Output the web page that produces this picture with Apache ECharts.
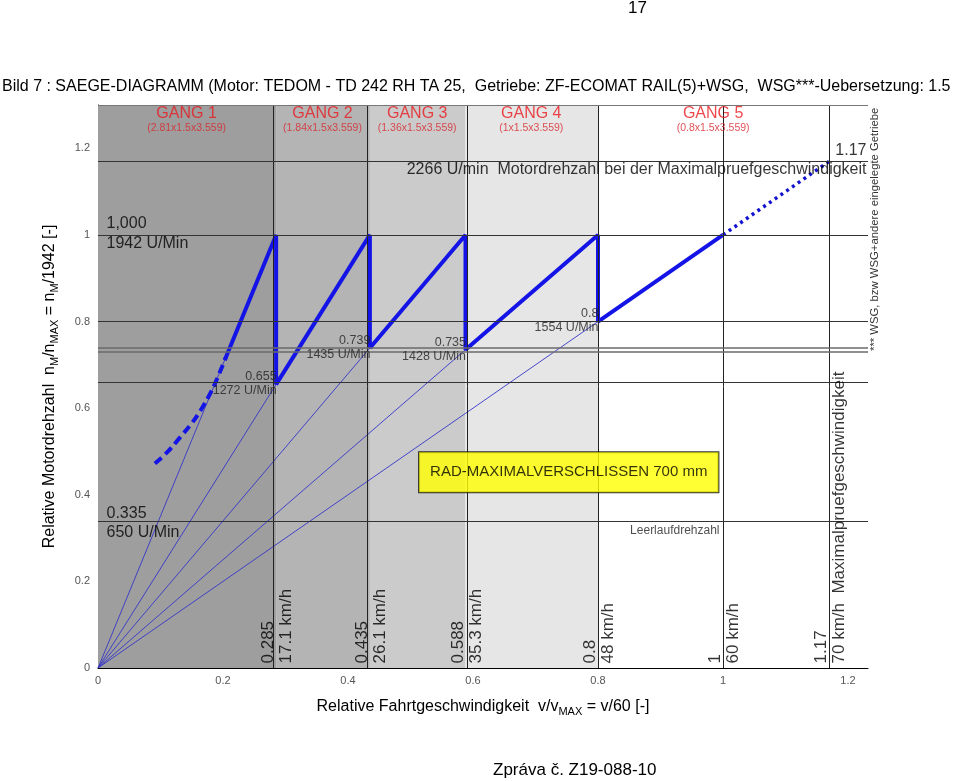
<!DOCTYPE html>
<html><head><meta charset="utf-8">
<script src="https://cdn.jsdelivr.net/npm/echarts@6/dist/echarts.min.js"></script>
<style>html,body{margin:0;padding:0;background:#fff}#c{width:960px;height:781px}</style>
</head><body><div id="c"></div>
<script>
// ---------- data ----------
const X_MIN = 0, X_MAX = 1.232, Y_MIN = 0, Y_MAX = 1.3;
const gangBounds = [0, 0.285, 0.435, 0.588, 0.8, 1.17];
const gangNames = ['GANG 1', 'GANG 2', 'GANG 3', 'GANG 4', 'GANG 5'];
const gangRatios = ['(2.81x1.5x3.559)', '(1.84x1.5x3.559)', '(1.36x1.5x3.559)', '(1x1.5x3.559)', '(0.8x1.5x3.559)'];
const gangColors = ['#9e9e9e', '#b4b4b4', '#cbcbcb', '#e6e6e6', '#ffffff'];
const vLines = [0.285, 0.435, 0.588, 0.8, 1, 1.17];
const vLineValues = ['0.285', '0.435', '0.588', '0.8', '1', '1.17'];
const vLineSpeeds = ['17.1 km/h', '26.1 km/h', '35.3 km/h', '48 km/h', '60 km/h', '70 km/h  Maximalpruefgeschwindigkeit'];
const hLines = [0.335, 0.655, 0.8, 1, 1.17];
const hLinesThick = [0.735, 0.739];
const sawX = [0.203, 0.285, 0.285, 0.435, 0.435, 0.588, 0.588, 0.8, 0.8, 1.0];
const sawY = [0.712, 1, 0.655, 1, 0.739, 1, 0.735, 1, 0.8, 1];
const dashX = [0.091, 0.112, 0.131, 0.150, 0.165, 0.177, 0.187, 0.205];
const dashY = [0.472, 0.500, 0.532, 0.565, 0.597, 0.627, 0.656, 0.719];
const dotX = [1, 1.17];
const dotY = [1, 1.17];
const rayEndX = [0.285, 0.285, 0.435, 0.588, 0.8];
const rayEndY = [1, 0.655, 0.739, 0.735, 0.8];
const ptX = [0.285, 0.435, 0.588, 0.8];
const ptY = [0.655, 0.739, 0.735, 0.8];
const ptVal = ['0.655', '0.739', '0.735', '0.8'];
const ptRpm = ['1272 U/Min', '1435 U/Min', '1428 U/Min', '1554 U/Min'];
const titleText = 'Bild 7 : SAEGE-DIAGRAMM (Motor: TEDOM - TD 242 RH TA 25,  Getriebe: ZF-ECOMAT RAIL(5)+WSG,  WSG***-Uebersetzung: 1.5';

// ---------- chart ----------
const FF = '"Liberation Sans", Arial, sans-serif';
const chart = echarts.init(document.getElementById('c'), null, {renderer: 'canvas'});

function lab(x, y, text, o) {
  return {
    value: [x, y],
    label: Object.assign({
      show: true, formatter: text, position: [0, 0], color: '#000',
      fontFamily: FF, fontSize: 16, align: 'left', verticalAlign: 'middle'
    }, o)
  };
}

const annotations = [];
annotations.push(lab(0, 1, '1,000', {offset: [9, -11]}));
annotations.push(lab(0, 1, '1942 U/Min', {offset: [9, 9]}));
annotations.push(lab(0, 0.335, '0.335', {offset: [9, -9]}));
annotations.push(lab(0, 0.335, '650 U/Min', {offset: [9, 10]}));
ptX.forEach((x, i) => {
  annotations.push(lab(x, ptY[i], ptVal[i], {align: 'right', fontSize: 12.5, color: '#222', offset: [1, -7]}));
  annotations.push(lab(x, ptY[i], ptRpm[i], {align: 'right', fontSize: 12.5, color: '#222', offset: [1, 7]}));
});
annotations.push(lab(X_MAX, 1.17, '1.17', {align: 'right', offset: [-1, -10]}));
annotations.push(lab(X_MAX, 1.17, '2266 U/min  Motordrehzahl bei der Maximalpruefgeschwindigkeit', {align: 'right', offset: [-1, 9]}));
annotations.push(lab(1, 0.335, 'Leerlaufdrehzahl', {align: 'right', fontSize: 12, color: '#222', offset: [-3, 8]}));
annotations.push(lab(0.754, 0.451, 'RAD-MAXIMALVERSCHLISSEN 700 mm', {
  align: 'center', fontSize: 15, backgroundColor: '#ffff00', borderColor: '#000', borderWidth: 1, padding: [13, 11, 12, 11]
}));
gangNames.forEach((g, i) => {
  const cx = (gangBounds[i] + gangBounds[i + 1]) / 2;
  annotations.push(lab(cx, Y_MAX, g, {align: 'center', color: '#e8191e', fontSize: 16, offset: [0, 9]}));
  annotations.push(lab(cx, Y_MAX, gangRatios[i], {align: 'center', color: '#d8262c', fontSize: 10.5, offset: [0, 24]}));
});
// rotated labels: offset is in the rotated frame ([along text, across text])
vLines.forEach((x, i) => {
  annotations.push(lab(x, 0, vLineValues[i], {rotate: 90, fontSize: 17, offset: [4, -7]}));
  annotations.push(lab(x, 0, vLineSpeeds[i], {rotate: 90, fontSize: 17, offset: [4, 11]}));
});

const series = [];
// background shading
series.push({
  type: 'line', data: [], silent: true, z: 1,
  markArea: {
    silent: true,
    data: gangColors.map((c, i) => [
      {xAxis: gangBounds[i], yAxis: Y_MIN, itemStyle: {color: c}},
      {xAxis: gangBounds[i + 1], yAxis: Y_MAX}
    ])
  }
});
// reference lines
series.push({
  type: 'line', data: [], silent: true, z: 2,
  markLine: {
    silent: true, symbol: ['none', 'none'], label: {show: false}, animation: false,
    data: [
      ...vLines.map(v => ({xAxis: v, lineStyle: {color: '#222', width: 1, type: 'solid'}})),
      ...hLines.map(v => ({yAxis: v, lineStyle: {color: '#333', width: 1, type: 'solid'}})),
      ...hLinesThick.map(v => ({yAxis: v, lineStyle: {color: '#6a6a6a', width: 1.6, type: 'solid'}})),
      {yAxis: Y_MAX, lineStyle: {color: '#777', width: 1.2, type: 'solid'}}
    ]
  }
});
// rays from origin
rayEndX.forEach((x, i) => {
  series.push({
    type: 'line', z: 3, symbol: 'none', silent: true,
    lineStyle: {color: '#3535c8', width: 0.9},
    data: [[0, 0], [x, rayEndY[i]]]
  });
});
// saw
series.push({
  type: 'line', z: 4, symbol: 'none', silent: true,
  lineStyle: {color: '#1414e6', width: 4, cap: 'butt', join: 'bevel'},
  data: sawX.map((x, i) => [x, sawY[i]])
});
series.push({
  type: 'line', z: 4, symbol: 'none', silent: true, smooth: 0.4,
  lineStyle: {color: '#1414e6', width: 4, type: [9, 5]},
  data: dashX.map((x, i) => [x, dashY[i]])
});
series.push({
  type: 'line', z: 4, symbol: 'none', silent: true,
  lineStyle: {color: '#1414d0', width: 3.5, type: [3, 4]},
  data: dotX.map((x, i) => [x, dotY[i]])
});
// annotations
series.push({
  type: 'scatter', z: 6, symbol: 'circle', symbolSize: 1, silent: true,
  itemStyle: {color: 'rgba(0,0,0,0)'},
  data: annotations
});

const tickFmt = v => (Math.abs(v / 0.2 - Math.round(v / 0.2)) < 1e-6 ? String(+v.toFixed(1)) : '');

chart.setOption({
  animation: false,
  backgroundColor: '#fff',
  grid: {left: 98, right: 92, top: 105, bottom: 113, containLabel: false},
  xAxis: {
    type: 'value', min: X_MIN, max: X_MAX, interval: 0.2,
    axisLine: {show: true, lineStyle: {color: '#000', width: 1}},
    axisTick: {show: false}, splitLine: {show: false},
    axisLabel: {formatter: tickFmt, color: '#555', fontSize: 11, fontFamily: FF, margin: 7, showMaxLabel: false},
    name: '{a|Relative Fahrtgeschwindigkeit  v/v}{s|MAX}{a| = v/60 [-]}',
    nameLocation: 'middle', nameGap: 29,
    nameTextStyle: {rich: {
      a: {fontSize: 16, fontFamily: FF, color: '#000', lineHeight: 20},
      s: {fontSize: 11, fontFamily: FF, color: '#000', lineHeight: 9, verticalAlign: 'bottom'}
    }}
  },
  yAxis: {
    type: 'value', min: Y_MIN, max: Y_MAX, interval: 0.2,
    axisLine: {show: true, lineStyle: {color: '#000', width: 1}},
    axisTick: {show: false}, splitLine: {show: false},
    axisLabel: {formatter: tickFmt, color: '#555', fontSize: 11, fontFamily: FF, margin: 8, showMaxLabel: false},
    name: '{a|Relative Motordrehzahl  n}{s|M}{a|/n}{s|MAX}{a| = n}{s|M}{a|/1942 [-]}',
    nameLocation: 'middle', nameGap: 38, nameRotate: 90,
    nameTextStyle: {rich: {
      a: {fontSize: 16, fontFamily: FF, color: '#000', lineHeight: 20},
      s: {fontSize: 11, fontFamily: FF, color: '#000', lineHeight: 9, verticalAlign: 'bottom'}
    }}
  },
  graphic: [
    {type: 'text', left: 2, top: 79, style: {text: titleText, font: '16px ' + FF, fill: '#000'}},
    {type: 'text', left: 628, top: 0, style: {text: '17', font: '17px ' + FF, fill: '#000'}},
    {type: 'text', left: 493, top: 762, style: {text: 'Zpráva č. Z19-088-10', font: '17px ' + FF, fill: '#000'}},
    {type: 'text', x: 875, y: 351, rotation: Math.PI / 2,
     style: {text: '*** WSG, bzw WSG+andere eingelegte Getriebe', font: '11.3px ' + FF, fill: '#333', textAlign: 'left', textVerticalAlign: 'middle'}}
  ],
  series: series
});
</script>
</body></html>
